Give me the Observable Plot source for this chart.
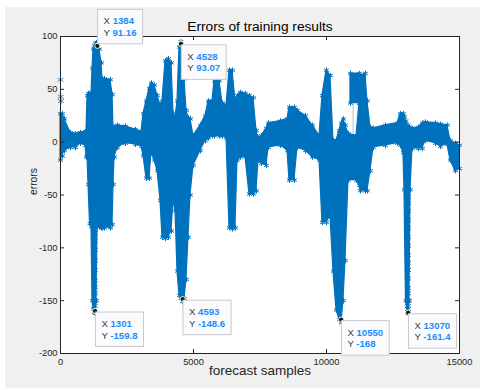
<!DOCTYPE html>
<html><head><meta charset="utf-8">
<script src="https://cdn.jsdelivr.net/npm/d3@7"></script>
<script src="https://cdn.jsdelivr.net/npm/@observablehq/plot@0.6"></script>
<style>
body{margin:0;background:#fff;width:480px;height:390px;overflow:hidden;}
#bg{position:absolute;left:5px;top:7px;width:475px;height:381px;background:#f0f0f0;}
#chart{position:absolute;left:0;top:0;}
</style></head>
<body><div id="bg"></div><div id="chart"></div>
<script>
// envelope of the error series (sample index, upper and lower extent of the dense band)
const sampleIdx = [0,75,150,376,564,752,940,977,1015,1053,1109,1165,1203,1240,1278,1316,1353,1391,1466,1541,1579,1654,1880,1955,1992,2030,2143,2443,2819,3045,3120,3233,3345,3420,3533,3646,3759,3834,3947,4060,4172,4248,4323,4398,4473,4530,4586,4661,4736,4811,4887,5000,5263,5451,5564,5714,5789,5977,6090,6240,6353,6466,6578,6653,6766,6954,7104,7255,7368,7443,7556,7744,7819,8270,8533,8608,8796,8909,9210,9473,9736,9848,9999,10149,10262,10375,10488,10563,10638,10713,10826,11127,11240,11277,11465,11540,11653,11766,12217,12668,12781,12893,12931,12987,13063,13119,13157,13232,13457,13607,13720,14096,14284,14547,14660,14848,15000];
const upperErr = [27,27,22,9,8,9,10,10,44,46,46,46,70,88,91,93,94,94,88,75,60,60,59,45,14,14,16,15,12,10,27,39,51,56,54,44,35,39,77,79,75,27,23,39,90,95,85,60,30,23,22,6,16,25,39,39,58,58,37,35,68,68,39,44,47,46,44,42,11,4,6,13,18,20,22,33,33,30,25,16,6,44,68,63,1.5,1.5,11,18,22,16,8,6,37,63,65,39,14,13,16,18,27,27,24,20,16,14,13,13,14,18,19,18,17,16,1.5,-1,-3];
const lowerErr = [-17,-13,-8,-5,-5,-1,-3,-14,-14,-40,-77,-80,-150,-158,-161,-162,-150,-80,-80,-81,-81,-81,-81,-78,-40,-14,-5,-1,-2,-4,-13,-34,-34,-10,-17,-27,-55,-90,-91,-90,-84,-55,-65,-122,-145,-148,-151,-148,-130,-90,-50,-22,-8,1.5,4,6,6,6,6,4,-81,-82,-81,-17,-14,-14,-49,-49,-46,-17,-20,-22,-5,-3,-8,-36,-36,-5,-8,-14,-17,-76,-76,-70,-122,-159,-168,-171,-150,-112,-36,-36,-41,-46,-46,-46,-27,-5,-3,-1,-3,-10,-45,-150,-162,-150,-45,-6,-6,-6,1.5,-1,-4,-2,-17,-27,-25];
// detached block of samples near 11000
const blockIdx = [10901, 11240];
const blockUpper = [65, 65];
const blockLower = [37, 37];
// isolated markers
const outlierIdx = [0, 10, 20];
const outlierErr = [59, 43, 39];
const tailIdx = [1290,1290,1290,1290,1290,1290,1290,1290,1290,1290,13063,13063,13063,13063,13063,13063,13063,13063,13063,13063,13063,13063,13063,13063,13063,13063];
const tailErr = [-86,-93,-102,-112,-121,-131,-137,-143,-150,-155,-52,-58,-65,-74,-81,-90,-98,-107,-114,-121,-129,-138,-143,-150,-155,-158];
// data tips
const tipX = [1384, 4528, 1301, 4593, 10550, 13070];
const tipY = [91.16, 93.07, -159.8, -148.6, -168, -161.4];
// axes
const xTicks = [0, 5000, 10000, 15000];
const yTicks = [-200, -150, -100, -50, 0, 50, 100];

const band = sampleIdx.map((s,i)=>({s, lo: lowerErr[i], hi: upperErr[i], g: "main"}))
  .concat(blockIdx.map((s,i)=>({s, lo: blockLower[i], hi: blockUpper[i], g: "block"})));
const outliers = outlierIdx.map((s,i)=>({s, v: outlierErr[i]}));
const tails = tailIdx.map((s,i)=>({s, v: tailErr[i]}));
const tips = tipX.map((s,i)=>({s, v: tipY[i]}));

const blue = "#0072BD";
const ink = "#262626";
const font = "'Liberation Sans', Arial, Helvetica, sans-serif";

const chart = Plot.plot({
  width: 480, height: 390,
  marginLeft: 60, marginRight: 21, marginTop: 36, marginBottom: 37,
  style: {background: "transparent", color: ink, fontFamily: font},
  x: {domain: [0, 15000], label: null},
  y: {domain: [-200, 100], label: null},
  marks: [
    Plot.frame({fill: "white"}),
    Plot.ruleX([11000], {x: d=>d, y1: 6, y2: 37, stroke: "#9fc5e6", strokeWidth: 1}),
    Plot.areaY(band, {x: "s", y1: "lo", y2: "hi", z: "g", fill: blue, stroke: blue, strokeWidth: 1.2, curve: "linear"}),
    Plot.dot(band, {x: "s", y: "hi", symbol: "asterisk", r: 2.6, stroke: blue, strokeWidth: 1}),
    Plot.dot(band, {x: "s", y: "lo", symbol: "asterisk", r: 2.6, stroke: blue, strokeWidth: 1}),
    Plot.dot(tails, {x: "s", y: "v", symbol: "asterisk", r: 3.2, stroke: blue, strokeWidth: 1}),
    Plot.dot(outliers, {x: "s", y: "v", symbol: "asterisk", r: 3.2, stroke: "#3d8fd1", strokeWidth: 1}),
    Plot.frame({stroke: ink, strokeWidth: 1}),
    Plot.tickX(xTicks, {x: d=>d, insetTop: 313, stroke: ink}),
    Plot.tickX(xTicks, {x: d=>d, insetBottom: 313, stroke: ink}),
    Plot.tickY(yTicks, {y: d=>d, insetRight: 395, stroke: ink}),
    Plot.tickY(yTicks, {y: d=>d, insetLeft: 395, stroke: ink}),
    Plot.axisX(xTicks, {anchor: "bottom", tickSize: 0, tickPadding: 5, fontSize: 9.3, tickFormat: d=>String(d), label: null}),
    Plot.axisY(yTicks, {anchor: "left", tickSize: 0, tickPadding: 3, fontSize: 9.3, tickFormat: d=>String(d), label: null}),
    Plot.text(["Errors of training results"], {frameAnchor: "top", dy: -6, lineAnchor: "bottom", fontSize: 13.7, fill: "#000"}),
    Plot.text(["forecast samples"], {frameAnchor: "bottom", dy: 21, lineAnchor: "bottom", fontSize: 13.5, fill: ink}),
    Plot.text(["errors"], {frameAnchor: "left", dx: -24, rotate: -90, lineAnchor: "bottom", fontSize: 10.3, fill: ink}),
    Plot.dot(tips, {x: "s", y: "v", r: 2.6, fill: "#111", stroke: "#f4f4c8", strokeWidth: 1})
  ]
});
document.getElementById("chart").appendChild(chart);

// MATLAB-style data tip boxes, placed with the plot's own scales
const sx = chart.scale("x"), sy = chart.scale("y");
const svg = d3.select(chart);
tips.forEach((d, i) => {
  const px = sx.apply(d.s), py = sy.apply(d.v);
  const above = i === 0;
  const left = px + 0.8;
  const top = above ? py - 36 : py + 1.5;
  const g = svg.append("g").attr("font-family", font).attr("font-size", 9.6).attr("text-anchor", "start");
  const rect = g.append("rect").attr("x", left).attr("y", top).attr("height", 34.5)
    .attr("fill", "#fbfbfe").attr("stroke", "#c9c9cf").attr("stroke-width", 1);
  const lines = [["X", String(d.s)], ["Y", String(d.v)]];
  let w = 0;
  lines.forEach((ln, j) => {
    const t = g.append("text").attr("x", left + 6).attr("y", top + 15 + j * 11.5).attr("text-anchor", "start");
    t.append("tspan").attr("fill", "#3a3a3a").text(ln[0] + " ");
    t.append("tspan").attr("fill", "#1a8cff").attr("font-weight", "bold").text(ln[1]);
    w = Math.max(w, t.node().getComputedTextLength());
  });
  rect.attr("width", w + 12);
});
</script>
</body></html>
